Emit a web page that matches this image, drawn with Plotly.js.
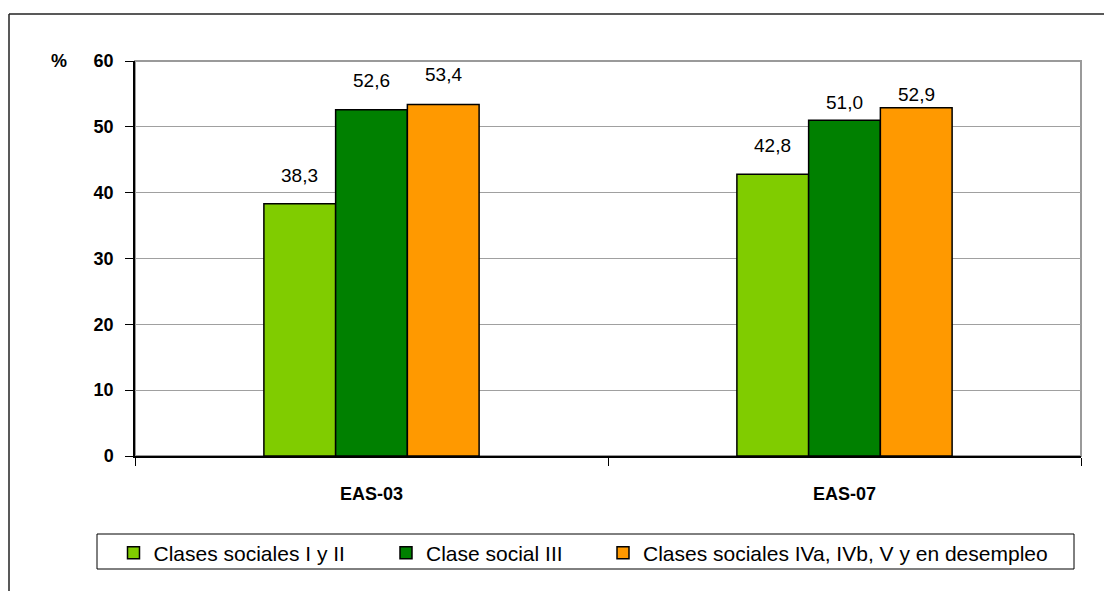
<!DOCTYPE html>
<html>
<head>
<meta charset="utf-8">
<script src="https://cdn.plot.ly/plotly-3.0.1.min.js"></script>
<style>html,body{margin:0;padding:0;background:#fff;}#chart{width:1104px;height:591px;}</style>
</head>
<body>
<div id="chart"></div>
<script>
// ---- data ----
const categories = ['EAS-03', 'EAS-07'];
const seriesNames = ['Clases sociales I y II', 'Clase social III', 'Clases sociales IVa, IVb, V y en desempleo'];
const clasesIyII = [38.3, 42.8];
const claseIII = [52.6, 51.0];
const clasesIVyDesempleo = [53.4, 52.9];
const yTickVals = [0, 10, 20, 30, 40, 50, 60];
const yTickText = ['0', '10', '20', '30', '40', '50', '60'];
const yUnit = '%';

// ---- styles ----
const colors = ['#80cc00', '#008000', '#ff9900'];
const FONT = '"Liberation Sans", Arial, sans-serif';
const margin = {l: 135, r: 23, t: 61, b: 135};
const W = 1104, H = 591;
const bargap = 0.545;
const plotW = W - margin.l - margin.r;
const barPx = plotW / categories.length * (1 - bargap) / 3;
const labelLift = [[16, 16], [17, 5], [17, 1]]; // label offset above bar (px), style only

const series = [clasesIyII, claseIII, clasesIVyDesempleo];
const legendIds = ['legend', 'legend2', 'legend3'];

const traces = series.map((vals, i) => ({
  type: 'bar',
  name: seriesNames[i],
  x: categories,
  y: vals,
  marker: {color: colors[i], line: {color: '#000', width: 1.5}},
  legend: legendIds[i],
  hoverinfo: 'x+y+name'
}));

const fmt = v => v.toFixed(1).replace('.', ',');
const annotations = [];
series.forEach((vals, i) => {
  vals.forEach((v, k) => {
    annotations.push({
      x: categories[k], y: v, xref: 'x', yref: 'y',
      xshift: (i - 1) * barPx, yshift: labelLift[i][k],
      yanchor: 'bottom', showarrow: false,
      text: fmt(v),
      font: {family: FONT, size: 19, color: '#000'}
    });
  });
});
annotations.push({
  xref: 'paper', yref: 'paper', x: (58.5 - margin.l) / plotW, y: 1,
  xanchor: 'center', yanchor: 'middle', showarrow: false,
  text: '<b>' + yUnit + '</b>',
  font: {family: FONT, size: 18, color: '#000'}
});

const plotH = H - margin.t - margin.b;
const px2x = px => (px - margin.l) / plotW;
const py2y = py => (H - margin.b - py) / plotH;

const shapes = [
  // plot area border (grey)
  {type: 'rect', xref: 'paper', yref: 'paper', x0: 0, x1: 1, y0: 0, y1: 1,
   line: {color: '#9a9a9a', width: 2}, layer: 'below'},
  // legend box
  {type: 'rect', xref: 'paper', yref: 'paper', x0: px2x(97), x1: px2x(1074), y0: py2y(569), y1: py2y(534),
   line: {color: '#000', width: 1}, fillcolor: 'rgba(0,0,0,0)'},
  // outer chart frame (top & left)
  {type: 'line', xref: 'paper', yref: 'paper', x0: px2x(9), x1: px2x(1110), y0: py2y(14), y1: py2y(14),
   line: {color: '#222', width: 1.5}},
  {type: 'line', xref: 'paper', yref: 'paper', x0: px2x(9), x1: px2x(9), y0: py2y(14), y1: py2y(600),
   line: {color: '#222', width: 1.5}}
];

const legendFont = {family: FONT, size: 21, color: '#000'};
const legendY = py2y(553);
const legendXs = [px2x(113.5), px2x(386), px2x(603)];
const legendBase = {orientation: 'h', xanchor: 'left', yanchor: 'middle', y: legendY,
  font: legendFont, bgcolor: 'rgba(0,0,0,0)', borderwidth: 0, itemclick: false};

const layout = {
  width: W, height: H,
  margin: margin,
  paper_bgcolor: '#fff', plot_bgcolor: '#fff',
  barmode: 'group', bargap: bargap, bargroupgap: 0,
  font: {family: FONT, color: '#000'},
  showlegend: true,
  legend: Object.assign({}, legendBase, {x: legendXs[0]}),
  legend2: Object.assign({}, legendBase, {x: legendXs[1]}),
  legend3: Object.assign({}, legendBase, {x: legendXs[2]}),
  xaxis: {
    type: 'category', tickson: 'boundaries', ticks: 'outside', ticklen: 8, tickcolor: '#000', tickwidth: 1,
    showline: true, linecolor: '#000', linewidth: 1.5, showgrid: false, zeroline: false,
    tickfont: {family: FONT, size: 18, color: '#000', weight: 'bold'},
    ticklabelstandoff: 21, fixedrange: true
  },
  yaxis: {
    range: [0, 60], tickvals: yTickVals, ticktext: yTickText,
    ticks: 'outside', ticklen: 8, tickcolor: '#000', tickwidth: 1,
    showline: true, linecolor: '#000', linewidth: 1.5,
    showgrid: true, gridcolor: '#a0a0a0', gridwidth: 1, zeroline: false,
    tickfont: {family: FONT, size: 18, color: '#000', weight: 'bold'},
    ticklabelstandoff: 8, fixedrange: true
  },
  annotations: annotations,
  shapes: shapes
};

Plotly.newPlot('chart', traces, layout, {displayModeBar: false});
</script>
</body>
</html>
